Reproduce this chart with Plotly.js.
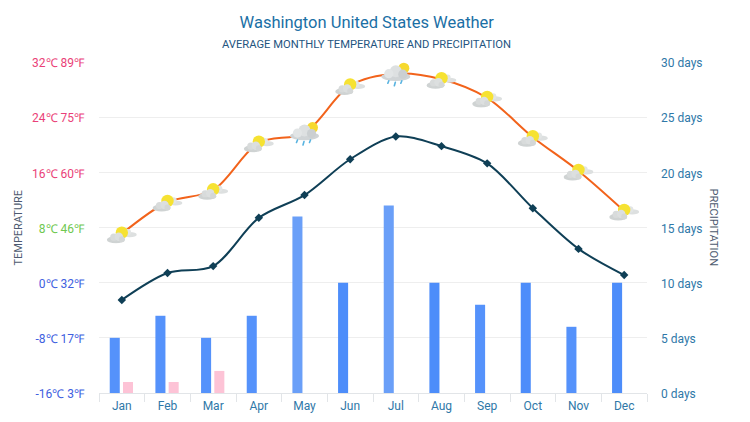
<!DOCTYPE html>
<html>
<head>
<meta charset="utf-8">
<script src="https://cdn.plot.ly/plotly-3.0.1.min.js"></script>
<style>html,body{margin:0;padding:0;background:#fff}#c{width:750px;height:422px}</style>
</head>
<body>
<div id="c"></div>
<script>
const months = ['Jan','Feb','Mar','Apr','May','Jun','Jul','Aug','Sep','Oct','Nov','Dec'];
const highC = [7.1,11.7,13.4,20.3,21.7,28.6,30.3,29.5,26.8,21.1,16.2,10.4];
const lowC = [-2.5,1.4,2.4,9.4,12.7,17.9,21.2,19.8,17.3,10.8,4.9,1.1];
const rainDays = [5,7,5,7,16,10,17,10,8,10,6,10];
const snowDays = [1,1,2,0,0,0,0,0,0,0,0,0];
const rainColors = ['#5592fb','#5592fb','#5592fb','#5592fb','#6a9ff8','#4d8dfa','#6a9ff8','#4d8dfa','#5592fb','#4d8dfa','#5592fb','#4d8dfa'];
const icons = ['sun','sun','sun','sun','rain','sun','rain','sun','sun','sun','sun','sun'];
const tempTicks = [-16,-8,0,8,16,24,32];
const tempLabels = ['-16℃ 3℉','-8℃ 17℉','0℃ 32℉','8℃ 46℉','16℃ 60℉','24℃ 75℉','32℃ 89℉'];
const tempColors = ['#4060e0','#4060e0','#4060e0','#6fc850','#ea3f78','#ea3f78','#ea3f78'];
const dayTicks = [0,5,10,15,20,25,30];

const defs = '<defs><filter id="b" x="-20%" y="-20%" width="140%" height="140%"><feGaussianBlur stdDeviation="0.4"/></filter></defs>';
const sunSvg = '<svg xmlns="http://www.w3.org/2000/svg" width="30" height="20" viewBox="0 0 30 20">' + defs + '<g filter="url(#b)">' +
  '<ellipse cx="23" cy="11" rx="7" ry="2.6" fill="#dde0e0"/><circle cx="21" cy="8.5" r="3.2" fill="#e2e5e5"/>' +
  '<circle cx="15" cy="9" r="6.2" fill="#f6e232"/>' +
  '<ellipse cx="9" cy="16" rx="9" ry="3.6" fill="#cfd3d3"/><circle cx="7" cy="13.5" r="3.6" fill="#d8dbdb"/><circle cx="12" cy="13" r="4.2" fill="#dcdfdf"/><circle cx="15" cy="15.5" r="3" fill="#d4d7d7"/>' +
  '</g></svg>';
const rainSvg = '<svg xmlns="http://www.w3.org/2000/svg" width="30" height="28" viewBox="0 0 30 28">' + defs + '<g filter="url(#b)">' +
  '<circle cx="23" cy="8.5" r="5.5" fill="#f6d92e"/>' +
  '<ellipse cx="15" cy="17" rx="14.5" ry="4.2" fill="#d0d4d6"/><circle cx="15" cy="11.5" r="6" fill="#dde0e1"/><circle cx="8" cy="14" r="4.6" fill="#e2e5e6"/><circle cx="22" cy="14.5" r="4.6" fill="#cbcfd1"/>' +
  '<path d="M8 21l-1 2.5M14.5 22.5l-1 3.5M21 21l-1 2.5" stroke="#58b3e0" stroke-width="1.6" stroke-linecap="round"/>' +
  '</g></svg>';
const toUri = s => 'data:image/svg+xml;charset=utf-8,' + encodeURIComponent(s);

const traces = [
  {type:'bar', name:'Rain days', x:months, y:rainDays, yaxis:'y2', marker:{color:rainColors}, width:0.22, offset:-0.265, hoverinfo:'x+y'},
  {type:'bar', name:'Snow days', x:months, y:snowDays, yaxis:'y2', marker:{color:'#fdc3d6'}, width:0.22, offset:0.025, hoverinfo:'x+y'},
  {type:'scatter', mode:'lines', name:'High', x:months, y:highC, line:{color:'#f2631b', width:2, shape:'spline', smoothing:0.9}},
  {type:'scatter', mode:'lines+markers', name:'Low', x:months, y:lowC, line:{color:'#0f3f56', width:2, shape:'spline', smoothing:0.9}, marker:{symbol:'diamond', size:6.5, color:'#0f3f56'}}
];

const layout = {
  width:750, height:422,
  margin:{l:99, r:102.5, t:62, b:29, pad:0},
  paper_bgcolor:'#fff', plot_bgcolor:'#fff',
  font:{family:'Roboto, sans-serif', size:12, color:'#2f78a8'},
  showlegend:false,
  barmode:'overlay',
  title:{text:'Washington United States Weather', x:0.489, xanchor:'center', y:0.948, yanchor:'middle', font:{size:16.5, color:'#1a6fa5', family:'Roboto, sans-serif'}},
  xaxis:{type:'category', categoryorder:'array', categoryarray:months, tickson:'boundaries', ticks:'outside', ticklen:8, tickcolor:'#e2e5e8', tickwidth:1, ticklabelstandoff:2,
    showline:true, linecolor:'#e2e5e8', linewidth:1, showgrid:false, tickfont:{size:12, color:'#2f78a8'}, range:[-0.5,11.5], fixedrange:true},
  yaxis:{range:[-16,32], tickvals:tempTicks,
    ticktext:tempLabels.map((t,i)=>'<span style="color:'+tempColors[i]+'">'+t+'</span>'),
    showgrid:true, gridcolor:'#eeeeee', gridwidth:1, zeroline:false, showline:false, ticks:'', ticklabelstandoff:14, ticklabelshift:1, tickfont:{size:12}},
  yaxis2:{range:[0,30], overlaying:'y', side:'right', tickvals:dayTicks, ticktext:dayTicks.map(d=>d+' days'), showgrid:false, zeroline:false, showline:false, ticks:'', ticklabelstandoff:13, ticklabelshift:1, tickfont:{size:12, color:'#2f78a8'}},
  annotations:[
    {xref:'paper', yref:'paper', x:0.489, y:1.054, xanchor:'center', yanchor:'middle', showarrow:false,
     text:'AVERAGE MONTHLY TEMPERATURE AND PRECIPITATION', font:{size:11.2, color:'#25557f', family:'Roboto, sans-serif'}},
    {xref:'paper', yref:'paper', x:-0.1478, y:0.5, xanchor:'center', yanchor:'middle', showarrow:false, textangle:-90,
     text:'TEMPERATURE', font:{size:11, color:'#4d5a70', family:'Roboto, sans-serif'}},
    {xref:'paper', yref:'paper', x:1.1222, y:0.5, xanchor:'center', yanchor:'middle', showarrow:false, textangle:90,
     text:'PRECIPITATION', font:{size:11, color:'#4d5a70', family:'Roboto, sans-serif'}}
  ],
  images: months.map((m,i)=>({
    source: toUri(icons[i]==='rain' ? rainSvg : sunSvg),
    xref:'x', yref:'y', x:i, y:highC[i],
    sizex:30/45.67, sizey:(icons[i]==='rain'?28:20)/6.896,
    xanchor:'center', yanchor:'middle', sizing:'stretch', layer:'above'
  }))
};
Plotly.newPlot('c', traces, layout, {displayModeBar:false, staticPlot:true});
</script>
</body>
</html>
